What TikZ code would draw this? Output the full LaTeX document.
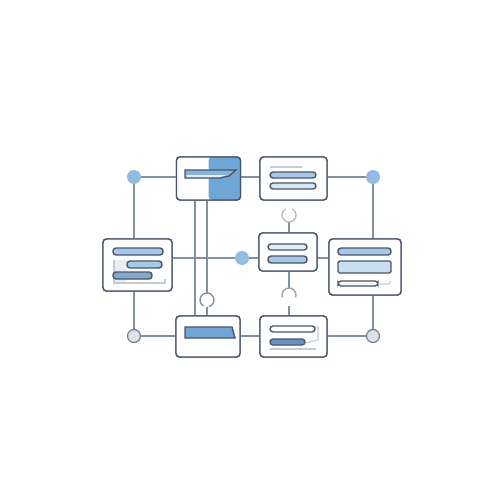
\documentclass[tikz,border=0pt]{standalone}
\usetikzlibrary{positioning}

\definecolor{edgegray}{HTML}{8290A2}
\definecolor{boxline}{HTML}{4A5669}
\definecolor{panelblue}{HTML}{6FA6D6}
\definecolor{barblue}{HTML}{A7C8E8}
\definecolor{darkbar}{HTML}{6592C2}
\definecolor{dotblue}{HTML}{93BCE3}
\definecolor{dotgray}{HTML}{DCE2EC}
\definecolor{paleline}{HTML}{C5CCD6}

\tikzset{
  box/.style={draw=boxline, line width=0.8pt, fill=white, rounded corners=2pt, inner sep=0pt},
  link/.style={draw=edgegray, line width=0.75pt},
  hubdot/.style={circle, fill=dotblue, minimum size=0.28cm, inner sep=0pt},
  portdot/.style={circle, draw=boxline!75, fill=dotgray, line width=0.7pt, minimum size=0.26cm, inner sep=0pt},
  bar/.style={draw=boxline, line width=0.8pt, fill=barblue, rounded corners=0.06cm},
  faint/.style={draw=paleline, line width=0.6pt},
}

\begin{document}
\begin{tikzpicture}[x=0.02cm, y=-0.02cm]

    % Canvas
    \fill[white] (0,0) rectangle (500,500);
    \useasboundingbox (0,0) rectangle (500,500);

    % Junction dots
    \coordinate (tl) at (134,177);
    \coordinate (tr) at (373,177);
    \coordinate (hub) at (242,258);
    \coordinate (bl) at (134,336);
    \coordinate (br) at (373,336);

    % Panels (placed first so links can use their borders)
    \path
      node[box, minimum width=1.28cm, minimum height=0.86cm] (A) at (208.5,178.5) {}
      node[box, minimum width=1.34cm, minimum height=0.86cm] (B) at (293.5,178.5) {}
      node[box, minimum width=1.38cm, minimum height=1.04cm] (C) at (137.5,265) {}
      node[box, minimum width=1.16cm, minimum height=0.76cm] (D) at (288,252) {}
      node[box, minimum width=1.44cm, minimum height=1.12cm] (E) at (365,267) {}
      node[box, minimum width=1.28cm, minimum height=0.82cm] (F) at (208,336.5) {}
      node[box, minimum width=1.34cm, minimum height=0.82cm] (G) at (293.5,336.5) {};

    % Links
    \draw[link] (tl) -- (A.west |- tl);
    \draw[link] (A.east |- tl) -- (B.west |- tl);
    \draw[link] (B.east |- tl) -- (tr);
    \draw[link] (tl) -- (tl |- C.north);
    \draw[link] (tl |- C.south) -- (bl);
    \draw[link] (bl) -- (F.west |- bl);
    \draw[link] (F.east |- bl) -- (G.west |- bl);
    \draw[link] (G.east |- bl) -- (br);
    \draw[link] (br) -- (br |- E.south);
    \draw[link] (tr |- E.north) -- (tr);
    \draw[link] (C.east |- hub) -- (hub) -- (D.west |- hub);
    \draw[link] (D.east |- hub) -- (E.west |- hub);

    % A to F, one straight and one with a hop
    \coordinate (hopA) at (207,300);
    \draw[link] ([xshift=-0.27cm]A.south) -- ([xshift=-0.27cm]A.south |- F.north);
    \draw[link] (hopA |- A.south) -- ([yshift=0.14cm]hopA);
    \draw[link] ([yshift=-0.14cm]hopA) -- (hopA |- F.north);
    \draw[link] (hopA) ++(120:7) arc (120:435:7);

    % D up to an open loop, D down to G with a hop
    \coordinate (loopD) at (289,215);
    \draw[link] ([yshift=-0.14cm]loopD) -- (loopD |- D.north);
    \draw[link, draw=edgegray!60] (loopD) ++(-60:7) arc (-60:240:7);
    \coordinate (hopD) at (289,295);
    \draw[link] (hopD |- D.south) -- ([yshift=0.14cm]hopD);
    \draw[link] ([yshift=-0.22cm]hopD) -- (hopD |- G.north);
    \draw[link, draw=edgegray!85] (hopD) ++(160:7) arc (160:380:7);

    % Redraw panels on top of the links
    \node[box, minimum width=1.28cm, minimum height=0.86cm,
      path picture={\fill[panelblue] (path picture bounding box.north) rectangle (path picture bounding box.south east);}]
      at (A) {};
    \node[box, minimum width=1.34cm, minimum height=0.86cm] at (B) {};
    \node[box, minimum width=1.38cm, minimum height=1.04cm] at (C) {};
    \node[box, minimum width=1.16cm, minimum height=0.76cm] at (D) {};
    \node[box, minimum width=1.44cm, minimum height=1.12cm] at (E) {};
    \node[box, minimum width=1.28cm, minimum height=0.82cm] at (F) {};
    \node[box, minimum width=1.34cm, minimum height=0.82cm] at (G) {};

    % Dots
    \node[hubdot] (tldot) at (tl) {};
    \node[hubdot] (trdot) at (tr) {};
    \node[hubdot] (hubdot) at (hub) {};
    \node[portdot] (bldot) at (bl) {};
    \node[portdot] (brdot) at (br) {};

    % Panel A content
    \draw[boxline, line width=0.8pt, fill=panelblue!85]
      (185,170) -- (236,170) -- (229,176) -- (220,178) -- (185,178) -- cycle;
    \fill[white!70!barblue] (186.5,175) -- (227,175) -- (220,177) -- (186.5,177) -- cycle;

    % Panel B content
    \draw[faint] (270,167) -- (302,167);
    \draw[bar] (270,172) rectangle (316,178);
    \draw[bar, fill=barblue!45] (270,183) rectangle (316,189);

    % Panel C content
    \draw[bar] (113,248) rectangle (163,255);
    \fill[dotgray!60] (114,260) rectangle (127,283);
    \draw[faint] (114,260) -- (114,283) -- (165,283) -- (165,279);
    \draw[bar] (127,261) rectangle (162,268);
    \draw[bar, fill=darkbar!80] (113,272) rectangle (152,279);

    % Panel D content
    \draw[bar, fill=barblue!30] (268,244) rectangle (307,250);
    \draw[bar] (268,256) rectangle (307,263);

    % Panel E content
    \draw[bar] (338,248) rectangle (391,255);
    \draw[boxline, line width=0.8pt, fill=barblue!60, rounded corners=0.03cm] (338,261) rectangle (391,273);
    \draw[bar, fill=barblue!15] (338,281) rectangle (378,286);
    \draw[faint] (378,284) -- (389,284) -- (391,281);

    % Panel F content
    \draw[boxline, line width=0.8pt, fill=panelblue]
      (185,327) -- (232,327) -- (235,338) -- (185,338) -- cycle;

    % Panel G content
    \draw[faint] (315,327) -- (318,327) -- (318,340) -- (306,343);
    \draw[faint] (270,349) -- (316,349);
    \draw[bar, fill=white] (270,326) rectangle (315,332);
    \draw[bar, fill=darkbar] (270,339) rectangle (305,345);

\end{tikzpicture}
\end{document}
